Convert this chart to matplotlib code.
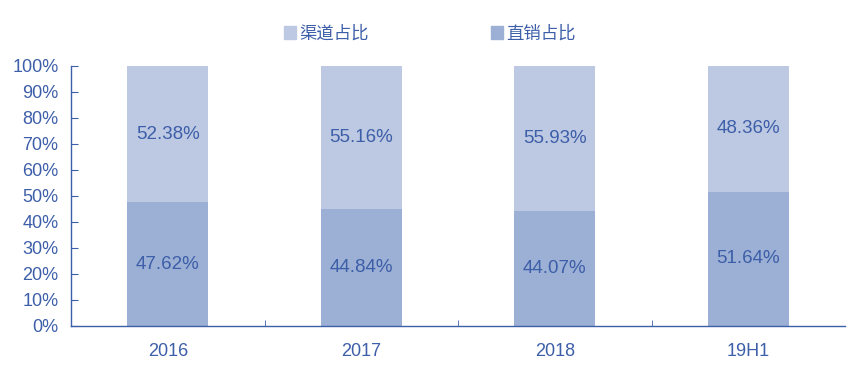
import matplotlib
matplotlib.use("Agg")
import matplotlib.pyplot as plt
from matplotlib.patches import Patch
from matplotlib.ticker import FuncFormatter, FixedLocator

plt.rcParams["font.family"] = ["Liberation Sans", "Noto Sans CJK SC", "DejaVu Sans"]

categories = ["2016", "2017", "2018", "19H1"]
direct = [47.62, 44.84, 44.07, 51.64]    # 直销占比
channel = [52.38, 55.16, 55.93, 48.36]   # 渠道占比

INK = "#3d5ea8"
LIGHT = "#bdc9e2"
DARK = "#9bb0d4"

fig = plt.figure(figsize=(8.58, 3.70), dpi=100)
ax = fig.add_axes([0.0828, 0.119, 0.9022, 0.7027])

x = list(range(len(categories)))
ax.bar(x, direct, width=0.42, color=DARK, zorder=2)
ax.bar(x, channel, width=0.42, bottom=direct, color=LIGHT, zorder=2)

for i, (d, c) in enumerate(zip(direct, channel)):
    ax.text(i, d / 2, f"{d:.2f}%", ha="center", va="center", color=INK, fontsize=13.5)
    ax.text(i, d + c / 2, f"{c:.2f}%", ha="center", va="center", color=INK, fontsize=13.5)

ax.set_xlim(-0.5, len(categories) - 0.5)
ax.set_ylim(0, 100)
ax.set_yticks(range(0, 101, 10))
ax.yaxis.set_major_formatter(FuncFormatter(lambda v, _: f"{v:.0f}%"))
ax.set_xticks(x)
ax.set_xticklabels(categories)
ax.xaxis.set_minor_locator(FixedLocator([i + 0.5 for i in x[:-1]]))

for s in ("top", "right"):
    ax.spines[s].set_visible(False)
for s in ("left", "bottom"):
    ax.spines[s].set_color(INK)
    ax.spines[s].set_linewidth(1.0)

ax.tick_params(axis="y", direction="in", length=5, color=INK, labelcolor=INK, labelsize=13, pad=9)
ax.tick_params(axis="x", which="major", length=0, labelcolor=INK, labelsize=13, pad=12)
ax.tick_params(axis="x", which="minor", direction="in", length=4, color=INK)

handles = [Patch(color=LIGHT, label="渠道占比"), Patch(color=DARK, label="直销占比")]
fig.legend(handles=handles, loc="center", bbox_to_anchor=(0.501, 0.91), ncol=2, frameon=False,
           fontsize=12.5, labelcolor=INK, handlelength=0.7, handleheight=0.7,
           handletextpad=0.2, columnspacing=7.0)

fig.savefig("out.png", dpi=100)
